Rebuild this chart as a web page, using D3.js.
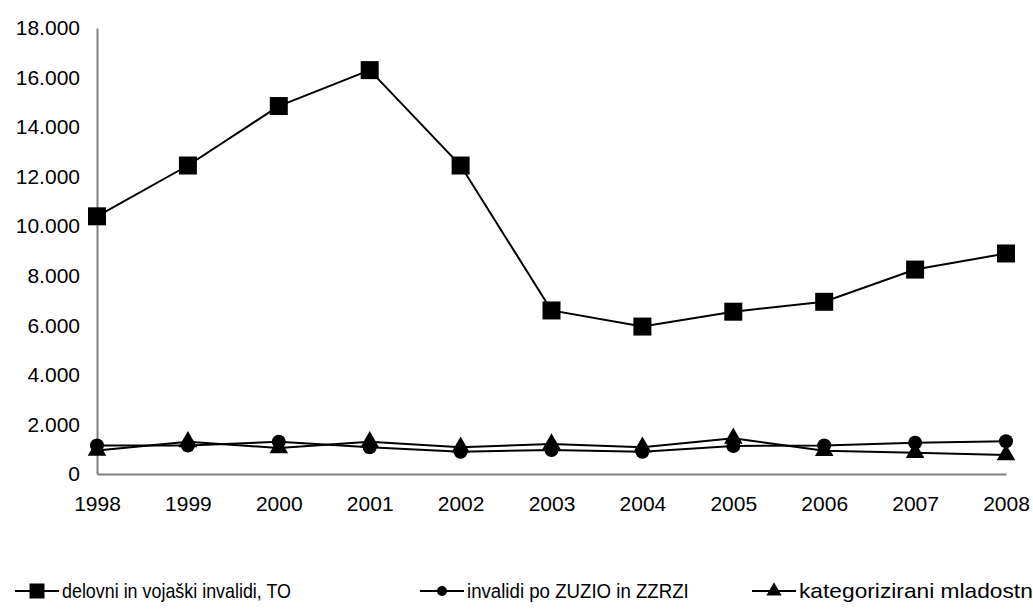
<!DOCTYPE html>
<html><head><meta charset="utf-8">
<script src="https://cdn.jsdelivr.net/npm/d3@7"></script>
<style>body{margin:0;background:#fff;overflow:hidden}svg{display:block}</style>
</head><body>
<svg id="c" width="1033" height="610"></svg>
<script>
const years = ["1998","1999","2000","2001","2002","2003","2004","2005","2006","2007","2008"];
const delovni = [10400,12450,14850,16300,12450,6600,5950,6550,6950,8250,8900];
const zuzio = [1150,1150,1300,1080,900,970,900,1130,1150,1260,1320];
const mladostniki = [950,1300,1050,1300,1080,1210,1080,1440,940,860,770];
const yTicks = [0,2000,4000,6000,8000,10000,12000,14000,16000,18000];
const seriesNames = ["delovni in vojaški invalidi, TO","invalidi po ZUZIO in ZZRZI","kategorizirani mladostniki"];

const svg = d3.select("#c");
const font = "Liberation Sans, Arial, sans-serif";
const x = d3.scalePoint().domain(years).range([97, 1006]);
const y = d3.scaleLinear().domain([0,18000]).range([474, 28]);

const fmt = v => v === 0 ? "0" : d3.format(",")(v).replace(/,/g, ".");

// Y axis
const ya = svg.append("g").attr("transform","translate(97,0)")
  .call(d3.axisLeft(y).tickValues(yTicks).tickSize(0).tickPadding(17).tickFormat(fmt));
ya.select(".domain").attr("stroke","#808080").attr("stroke-width",2);
ya.selectAll("text").attr("font-family",font).attr("font-size",21).attr("fill","#000");

// X axis
const xa = svg.append("g").attr("transform","translate(0,474)")
  .call(d3.axisBottom(x).tickSize(0).tickPadding(22));
xa.select(".domain").attr("stroke","#808080").attr("stroke-width",2);
xa.selectAll("text").attr("font-family",font).attr("font-size",21).attr("fill","#000");

const line = d3.line().x((d,i)=>x(years[i])).y(d=>y(d));
const sets = [delovni, zuzio, mladostniki];
sets.forEach(s=>{
  svg.append("path").datum(s).attr("d",line).attr("fill","none").attr("stroke","#000").attr("stroke-width",2);
});

const sq = d3.symbol().type(d3.symbolSquare).size(18*18);
const ci = d3.symbol().type(d3.symbolCircle).size(Math.PI*7*7);
const tr = d3.symbol().type(d3.symbolTriangle).size(150);
const syms = [sq, ci, tr];

[2,1,0].forEach(k=>{
  svg.append("g").selectAll("path").data(sets[k]).join("path")
    .attr("transform",(d,i)=>`translate(${x(years[i])},${y(d)})`)
    .attr("d",syms[k]()).attr("fill","#000");
});

// legend (visible widths as seen in the reference, third entry cut by the right edge)
const legX = [15, 420, 752];
const visibleChars = [31, 26, 23];
const visibleWidth = [229, 222, 234];
const legSyms = [d3.symbol().type(d3.symbolSquare).size(15*15), d3.symbol().type(d3.symbolCircle).size(Math.PI*5*5), d3.symbol().type(d3.symbolTriangle).size(100)];
const lg = svg.append("g");
seriesNames.forEach((n,i)=>{
  const g = lg.append("g").attr("transform",`translate(${legX[i]},591)`);
  g.append("line").attr("x1",0).attr("x2",44).attr("y1",0).attr("y2",0).attr("stroke","#000").attr("stroke-width",2);
  g.append("path").attr("d",legSyms[i]()).attr("transform","translate(22,0)").attr("fill","#000");
  const t = g.append("text").attr("dy","0.35em").attr("font-family",font).attr("font-size",20).attr("fill","#000").text(n);
  const w = t.node().getSubStringLength(0, visibleChars[i]);
  const s = visibleWidth[i] / w;
  t.attr("transform",`translate(47,0) scale(${s},1)`);
});
</script>
</body></html>
